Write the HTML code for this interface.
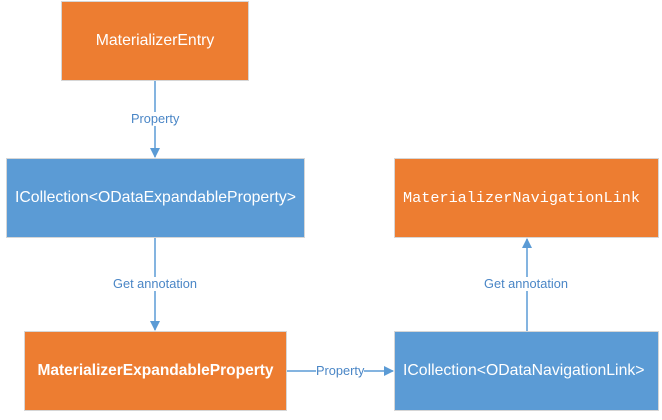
<!DOCTYPE html>
<html><head><meta charset="utf-8"><style>
body{margin:0;width:662px;height:420px;background:#fff;position:relative;overflow:hidden;font-family:"Liberation Sans",sans-serif}
.b{position:absolute;color:#fff;font-size:15.8px;display:flex;align-items:center;box-sizing:border-box;border:1px solid #d6d6d6;white-space:nowrap}
.o{background:#ED7D31}.u{background:#5B9BD5}
.l{position:absolute;color:#4a86c6;font-size:12.8px;background:#fff;line-height:14px}
</style></head><body>
<svg width="662" height="420" style="position:absolute;left:0;top:0">
<defs><marker id="a" markerWidth="10" markerHeight="10" refX="9" refY="5" orient="auto" markerUnits="userSpaceOnUse"><path d="M0,0L10,5L0,10z" fill="#5B9BD5"/></marker></defs>
<g stroke="#5B9BD5" stroke-width="1.5" fill="none">
<line x1="155" y1="81" x2="155" y2="157" marker-end="url(#a)"/>
<line x1="155" y1="238" x2="155" y2="330" marker-end="url(#a)"/>
<line x1="287" y1="371" x2="393" y2="371" marker-end="url(#a)"/>
<line x1="527" y1="331" x2="527" y2="239" marker-end="url(#a)"/>
</g></svg>
<div class="b o" style="left:61px;top:1px;width:188px;height:80px;justify-content:center">MaterializerEntry</div>
<div class="b u" style="left:6px;top:158px;width:299px;height:80px;justify-content:center">ICollection&lt;ODataExpandableProperty&gt;</div>
<div class="b o" style="left:24px;top:331px;width:263px;height:80px;justify-content:center;font-weight:bold;font-size:15.5px">MaterializerExpandableProperty</div>
<div class="b u" style="left:394px;top:331px;width:265px;height:80px;padding-left:8px">ICollection&lt;ODataNavigationLink&gt;</div>
<div class="b o" style="left:394px;top:158px;width:265px;height:80px;padding-left:8px;font-family:'Liberation Mono',monospace;font-size:15.2px">MaterializerNavigationLink</div>
<div class="l" style="left:131px;top:112px">Property</div>
<div class="l" style="left:113px;top:277px">Get annotation</div>
<div class="l" style="left:316px;top:364px">Property</div>
<div class="l" style="left:484px;top:277px">Get annotation</div>
</body></html>
